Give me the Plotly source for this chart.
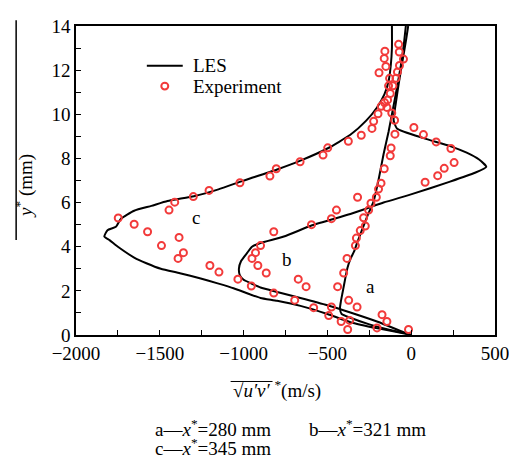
import plotly.graph_objects as go

# ---------------- data ----------------
# LES curves (x = sqrt(u'v')* in m/s, y = y* in mm)
les_a_x = [0, -60, -150, -250, -363, -415, -425, -420, -410, -400, -390, -380, -363, -340, -323,
           -294, -264, -224, -195, -165, -135, -110, -85, -62, -45, -32]
les_a_y = [0.0, 0.12, 0.27, 0.48, 0.78, 0.95, 1.2, 1.5, 1.9, 2.3, 2.7, 3.05, 3.44, 3.8, 4.17,
           4.75, 5.34, 6.07, 7.02, 8.19, 9.21, 10.2, 11.2, 12.2, 13.1, 14.0]

les_b_x = [0, -26, -200, -363, -500, -661, -800, -899, -958, -1000, -1022, -1028, -1015, -978,
           -950, -899, -760, -591, -363, -165, -6, 232, 380, 448, 405, 331, 232, 73, -85, -105,
           -92, -72, -50, -30, -18]
les_b_y = [0.0, 0.07, 0.6, 1.02, 1.35, 1.68, 1.95, 2.15, 2.35, 2.5, 2.7, 3.0, 3.35, 3.73,
           4.0, 4.17, 4.46, 4.97, 5.48, 6.0, 6.36, 6.95, 7.35, 7.62, 7.95, 8.26, 8.56, 8.92, 9.36,
           9.73, 10.5, 11.5, 12.5, 13.4, 14.0]

les_c_x = [0, -26, -200, -363, -500, -661, -800, -899, -958, -1060, -1160, -1256, -1380, -1494,
           -1580, -1653, -1750, -1800, -1831, -1812, -1762, -1732, -1653, -1550, -1454, -1296,
           -1150, -1018, -958, -800, -661, -500, -363, -270, -204, -160, -135, -122, -115, -115]
les_c_y = [0.0, 0.05, 0.3, 0.58, 0.95, 1.32, 1.55, 1.68, 1.83, 2.12, 2.35, 2.56, 2.8, 3.0,
           3.25, 3.51, 4.0, 4.3, 4.46, 4.75, 4.9, 5.27, 5.63, 5.85, 6.07, 6.29,
           6.6, 6.95, 7.1, 7.5, 7.9, 8.45, 9.07, 9.7, 10.31, 10.9, 11.5, 12.2, 13.0, 14.0]

# Experimental points
exp_x = [-75, -157, -71, -161, -46, -70, -151, -82, -192, -129, -91, -109, -135, -125, -141,
         -159, -179, -145, -198, -116, -224, -99, -234, 16, -97, 73, -298, -375, 149, -498,
         -120, 237, -526, -125, 256, -663, 197, -805, -161, 158, -843, 83, -180, -1022, -195,
         -1206, -208, -320, -1300, -240, -1411, -1445, -254, -446, -476, -284, -1748, -1653,
         -274, -595, -820, -304, -1573, -1385, -327, -1490, -333, -899, -1359, -929, -1391,
         -383, -950, -1201, -915, -1147, -403, -865, -1034, -674, -954, -627, -439, -820,
         -373, -695, -582, -476, -323, -492, -174, -145, -418, -367, -379, -204, -16]
exp_y = [13.17, 12.86, 12.82, 12.53, 12.5, 12.21, 12.17, 11.92, 11.88, 11.63, 11.63, 11.29,
         11.29, 10.94, 10.65, 10.53, 10.36, 10.31, 10.02, 10.06, 9.68, 9.73, 9.36, 9.4, 9.1,
         9.08, 9.05, 8.78, 8.75, 8.48, 8.47, 8.45, 8.15, 8.12, 7.81, 7.85, 7.55, 7.53, 7.53,
         7.22, 7.2, 6.92, 6.88, 6.9, 6.61, 6.55, 6.24, 6.24, 6.27, 5.97, 6.02, 5.66, 5.66,
         5.66, 5.27, 5.31, 5.3, 5.02, 4.94, 5.0, 4.68, 4.73, 4.68, 4.42, 4.39, 4.05, 4.05,
         4.05, 3.73, 3.73, 3.47, 3.47, 3.47, 3.15, 3.15, 2.85, 2.81, 2.81, 2.53, 2.53, 2.22,
         2.19, 2.19, 1.9, 1.57, 1.58, 1.24, 1.27, 1.27, 0.88, 0.92, 0.61, 0.61, 0.66, 0.25,
         0.32, 0.25]

x_tick_vals = [-2000, -1500, -1000, -500, 0, 500]
y_tick_vals = [0, 2, 4, 6, 8, 10, 12, 14]
curve_labels = ["a", "b", "c"]
curve_label_x = [-244, -744, -1286]
curve_label_y = [2.19, 3.44, 5.34]
legend_names = ["LES", "Experiment"]
captions = ["a—<i>x</i><sup>*</sup>=280 mm", "b—<i>x</i><sup>*</sup>=321 mm",
            "c—<i>x</i><sup>*</sup>=345 mm"]

# ---------------- figure ----------------
FONT = "Liberation Serif"
RED = "#f23a3a"
BODY = 8                      # default body margin of the html page
W, H = 517 - BODY, 463 - BODY
L, R, T, B = 76 - BODY, 21, 16 - BODY, 128
PW, PH = W - L - R, H - T - B


def px_x(px):                 # page pixel -> paper
    return (px - BODY - L) / PW


def px_y(py):
    return (BODY + T + PH - py) / PH


fig = go.Figure()
line_style = dict(color="black", width=2, shape="spline", smoothing=0.5)
for xs, ys in [(les_a_x, les_a_y), (les_b_x, les_b_y), (les_c_x, les_c_y)]:
    fig.add_trace(go.Scatter(x=xs, y=ys, mode="lines", line=line_style, name=legend_names[0],
                             showlegend=False))
fig.add_trace(go.Scatter(x=exp_x, y=exp_y, mode="markers", name=legend_names[1], showlegend=False,
                         marker=dict(symbol="circle-open", size=7, color=RED,
                                     line=dict(width=2, color=RED))))

ann_font = dict(family=FONT, size=19, color="black")

for t, lx, ly in zip(curve_labels, curve_label_x, curve_label_y):
    fig.add_annotation(x=lx, y=ly, xref="x", yref="y", text=t, showarrow=False,
                       xanchor="center", yanchor="middle", font=ann_font)

# legend (drawn manually to match spacing)
fig.add_shape(type="line", xref="paper", yref="paper", x0=px_x(147), x1=px_x(183),
              y0=px_y(57), y1=px_y(57), line=dict(color="black", width=2))
fig.add_shape(type="circle", xref="paper", yref="paper", x0=px_x(161.5), x1=px_x(168.5),
              y0=px_y(81.5), y1=px_y(74.5), line=dict(color=RED, width=2))
fig.add_annotation(x=px_x(191), y=px_y(57), xref="paper", yref="paper", xanchor="left",
                   yanchor="middle", text=legend_names[0], showarrow=False, font=ann_font)
fig.add_annotation(x=px_x(191), y=px_y(78), xref="paper", yref="paper", xanchor="left",
                   yanchor="middle", text=legend_names[1], showarrow=False, font=ann_font)

# x-axis title
fig.add_annotation(x=px_x(277), y=px_y(391), xref="paper", yref="paper", xanchor="center",
                   yanchor="middle", text="√<i>u′v′</i> <sup>*</sup>(m/s)", showarrow=False,
                   font=ann_font)
# y-axis title
fig.add_annotation(x=px_x(25), y=px_y(181), xref="paper", yref="paper", xanchor="center",
                   yanchor="middle", text="<i>y</i><sup>*</sup> (mm)", textangle=-90,
                   showarrow=False, font=ann_font)
# captions
fig.add_annotation(x=px_x(153), y=px_y(431), xref="paper", yref="paper", xanchor="left",
                   yanchor="middle", text=captions[0], showarrow=False, font=ann_font)
fig.add_annotation(x=px_x(308), y=px_y(431), xref="paper", yref="paper", xanchor="left",
                   yanchor="middle", text=captions[1], showarrow=False, font=ann_font)
fig.add_annotation(x=px_x(153), y=px_y(451), xref="paper", yref="paper", xanchor="left",
                   yanchor="middle", text=captions[2], showarrow=False, font=ann_font)

# overline of the square root, and the bar beside the y title
fig.add_shape(type="line", xref="paper", yref="paper", x0=px_x(231), x1=px_x(273),
              y0=px_y(383), y1=px_y(383), line=dict(color="black", width=1))
fig.add_shape(type="line", xref="paper", yref="paper", x0=px_x(16), x1=px_x(16),
              y0=px_y(237), y1=px_y(10), line=dict(color="black", width=1.5))

axis_common = dict(showline=True, linecolor="black", linewidth=1.5, mirror=True,
                   ticks="inside", ticklen=5, tickcolor="black", tickwidth=1,
                   showgrid=False, zeroline=False, ticklabeloverflow="allow",
                   tickfont=dict(family=FONT, size=19, color="black"))
fig.update_xaxes(range=[-2000, 500], tickvals=x_tick_vals,
                 minor=dict(dtick=250, ticks="inside", ticklen=5, tickcolor="black"),
                 **axis_common)
fig.update_yaxes(range=[0, 14], tickvals=y_tick_vals,
                 minor=dict(dtick=1, ticks="inside", ticklen=5, tickcolor="black"),
                 **axis_common)

fig.update_layout(
    width=W, height=H, margin=dict(l=L, r=R, t=T, b=B),
    paper_bgcolor="white", plot_bgcolor="white",
    font=dict(family=FONT, size=19, color="black"),
    showlegend=False,
)

fig.write_html("out.html")
